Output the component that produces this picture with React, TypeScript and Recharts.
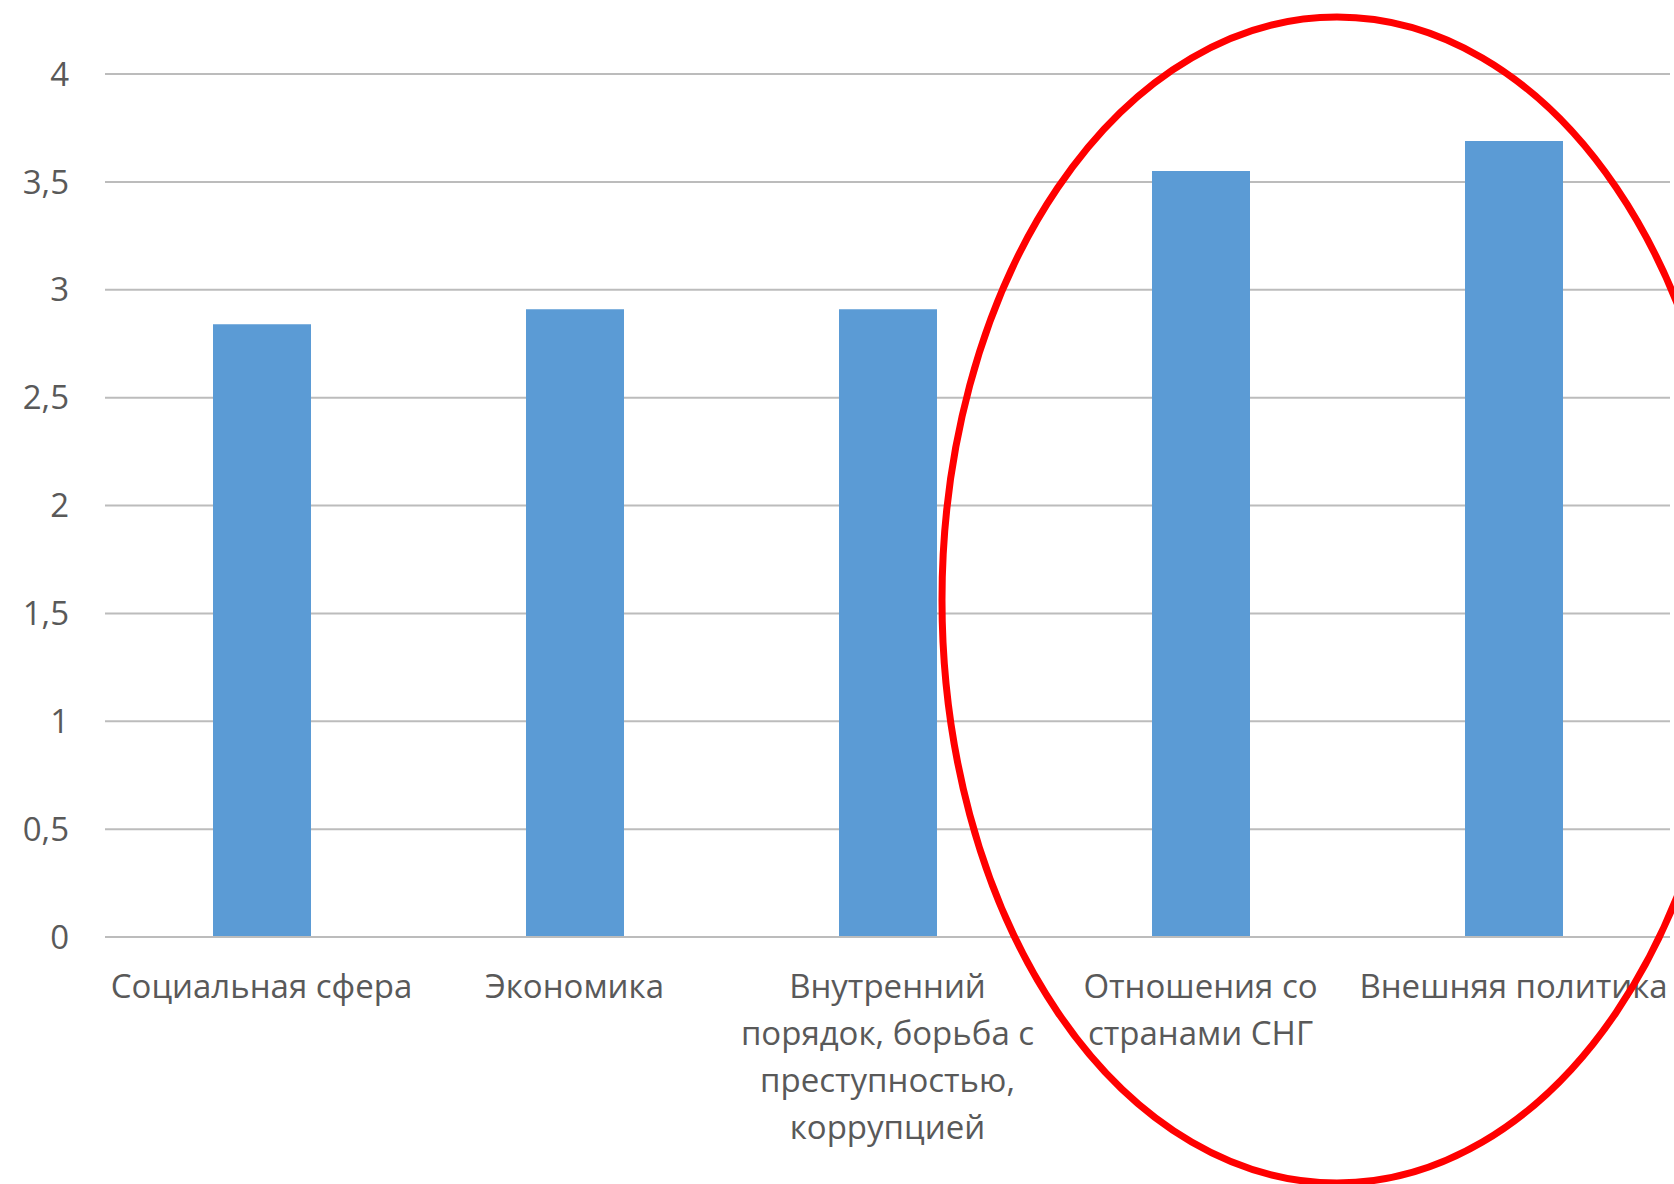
import React from 'react';
import { BarChart, Bar, XAxis, YAxis, CartesianGrid } from 'recharts';

// categories and scores (0..4)
const categories = [
  'Социальная сфера',
  'Экономика',
  'Внутренний порядок, борьба с преступностью, коррупцией',
  'Отношения со странами СНГ',
  'Внешняя политика',
];
const scores = [2.84, 2.91, 2.91, 3.55, 3.69];

// how Excel wrapped the category labels
const labelLines = [
  ['Социальная сфера'],
  ['Экономика'],
  ['Внутренний', 'порядок, борьба с', 'преступностью,', 'коррупцией'],
  ['Отношения со', 'странами СНГ'],
  ['Внешняя политика'],
];
const yTicks = [0, 0.5, 1, 1.5, 2, 2.5, 3, 3.5, 4];

const data = categories.map((name, i) => ({ name, value: scores[i] }));

const FONT = '"Open Sans", "Noto Sans", sans-serif';
const TEXT = '#595959';
const FONT_SIZE = 33;

const CategoryTick = (props: any) => {
  const { x, y, index } = props;
  const lines = labelLines[index] || [];
  return (
    <text x={x} y={y} textAnchor="middle" fill={TEXT} fontFamily={FONT} fontSize={FONT_SIZE}>
      {lines.map((l, i) => (
        <tspan key={i} x={x} dy={i === 0 ? 61 : 47}>
          {l}
        </tspan>
      ))}
    </text>
  );
};

const App = () => {
  return (
    <div style={{ position: 'absolute', left: 0, top: 0, width: 1674, height: 1184, overflow: 'hidden', background: '#fff' }}>
      <BarChart
        width={1674}
        height={1184}
        data={data}
        margin={{ top: 74, right: 4, bottom: 0, left: 0 }}
        barCategoryGap="34%"
      >
        <CartesianGrid vertical={false} stroke="#bcbcbc" strokeWidth={2} />
        <XAxis
          dataKey="name"
          height={247}
          interval={0}
          tickLine={false}
          tickSize={0}
          tickMargin={0}
          axisLine={{ stroke: '#bcbcbc', strokeWidth: 2 }}
          tick={<CategoryTick />}
        />
        <YAxis
          width={105}
          domain={[0, 4]}
          ticks={yTicks}
          axisLine={false}
          tickLine={false}
          tickSize={0}
          tickMargin={36}
          tick={{ fill: TEXT, fontSize: FONT_SIZE, fontFamily: FONT }}
          tickFormatter={(v: number) => String(v).replace('.', ',')}
        />
        <Bar dataKey="value" fill="#5b9bd5" barSize={98} isAnimationActive={false} />
      </BarChart>
      {/* red highlight ellipse drawn over the chart */}
      <svg width={1674} height={1184} style={{ position: 'absolute', left: 0, top: 0, pointerEvents: 'none' }}>
        <ellipse cx={1337} cy={600} rx={395} ry={583} fill="none" stroke="#ff0000" strokeWidth={7} />
      </svg>
    </div>
  );
};

export default App;
